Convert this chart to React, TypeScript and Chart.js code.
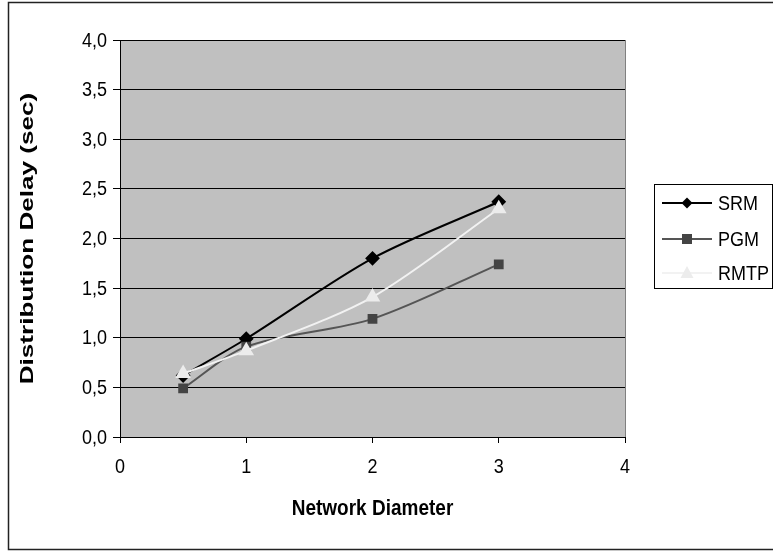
import React, { useEffect, useRef } from "react";
import { Chart, registerables } from "chart.js";

Chart.register(...registerables);

const xValues = [0.5, 1, 2, 3];
const srm = [0.62, 0.99, 1.8, 2.37];
const pgm = [0.49, 0.91, 1.19, 1.74];
const rmtp = [0.64, 0.87, 1.41, 2.3];
const seriesNames = ["SRM", "PGM", "RMTP"];
const xTitle = "Network Diameter";
const yTitle = "Distribution Delay (sec)";

const FONT = "Arial, 'Liberation Sans', sans-serif";
const fmt = (v: number) => Number(v).toFixed(1).replace(".", ",");

const bgPlugin = {
  id: "bgPlugin",
  beforeDraw(chart: any) {
    const { ctx, chartArea } = chart;
    ctx.save();
    ctx.fillStyle = "#ffffff";
    ctx.fillRect(0, 0, chart.width, chart.height);
    ctx.strokeStyle = "#222";
    ctx.lineWidth = 1.5;
    ctx.strokeRect(8.5, 2.5, chart.width + 10, 547);
    ctx.fillStyle = "#c0c0c0";
    ctx.fillRect(chartArea.left, chartArea.top, chartArea.right - chartArea.left, chartArea.bottom - chartArea.top);
    ctx.strokeStyle = "#808080";
    ctx.lineWidth = 1;
    ctx.strokeRect(chartArea.left + 0.5, chartArea.top + 0.5, chartArea.right - chartArea.left, chartArea.bottom - chartArea.top);
    ctx.restore();
  },
  afterDraw(chart: any) {
    const { ctx, chartArea } = chart;
    const xs = chart.scales.x;
    const ys = chart.scales.y;
    ctx.fillStyle = "#000";

    // y tick labels
    ys.ticks.forEach((t: any) => {
      const py = ys.getPixelForValue(t.value);
      ctx.save();
      ctx.translate(107, py + 6.5);
      ctx.scale(1, 1.08);
      ctx.font = `18px ${FONT}`;
      ctx.textAlign = "right";
      ctx.textBaseline = "alphabetic";
      ctx.fillText(fmt(t.value), 0, 0);
      ctx.restore();
    });
    // x tick labels
    xs.ticks.forEach((t: any) => {
      const px = xs.getPixelForValue(t.value);
      ctx.save();
      ctx.translate(px, 473);
      ctx.scale(1, 1.08);
      ctx.font = `18px ${FONT}`;
      ctx.textAlign = "center";
      ctx.textBaseline = "alphabetic";
      ctx.fillText(String(t.value), 0, 0);
      ctx.restore();
    });
    // x title
    ctx.save();
    ctx.translate((chartArea.left + chartArea.right) / 2, 515);
    ctx.scale(1, 1.15);
    ctx.font = `bold 19px ${FONT}`;
    ctx.textAlign = "center";
    ctx.textBaseline = "alphabetic";
    ctx.fillText(xTitle, 0, 0);
    ctx.restore();

    // y axis title (stretched along its length like the reference)
    ctx.save();
    ctx.translate(28, (chartArea.top + chartArea.bottom) / 2);
    ctx.rotate(-Math.PI / 2);
    ctx.scale(1.45, 1);
    ctx.font = `bold 18px ${FONT}`;
    ctx.textAlign = "center";
    ctx.textBaseline = "middle";
    ctx.fillText(yTitle, 0, 0);
    ctx.restore();

    ctx.save();
    // legend box
    ctx.strokeStyle = "#000";
    ctx.lineWidth = 1;
    ctx.fillStyle = "#fff";
    ctx.fillRect(654.5, 184.5, 118, 104);
    ctx.strokeRect(654.5, 184.5, 118, 104);
    const rowsY = [203, 239, 273];
    chart.data.datasets.forEach((ds: any, i: number) => {
      const y = rowsY[i];
      ctx.strokeStyle = ds.borderColor;
      ctx.lineWidth = 2;
      ctx.beginPath();
      ctx.moveTo(662, y);
      ctx.lineTo(712, y);
      ctx.stroke();
      ctx.fillStyle = ds.pointBackgroundColor;
      const cx = 687;
      ctx.beginPath();
      if (ds.pointStyle === "rectRot") {
        ctx.moveTo(cx, y - 5.5);
        ctx.lineTo(cx + 5.5, y);
        ctx.lineTo(cx, y + 5.5);
        ctx.lineTo(cx - 5.5, y);
      } else if (ds.pointStyle === "rect") {
        ctx.rect(cx - 5, y - 5, 10, 10);
      } else {
        ctx.moveTo(cx, y - 7);
        ctx.lineTo(cx + 6.5, y + 5);
        ctx.lineTo(cx - 6.5, y + 5);
      }
      ctx.closePath();
      ctx.fill();
      ctx.save();
      ctx.translate(718, y + 7);
      ctx.scale(1, 1.08);
      ctx.fillStyle = "#000";
      ctx.font = `18px ${FONT}`;
      ctx.textBaseline = "alphabetic";
      ctx.textAlign = "left";
      ctx.fillText(ds.label, 0, 0);
      ctx.restore();
    });
    ctx.restore();
  },
};

export default function App() {
  const ref = useRef<HTMLCanvasElement>(null);
  useEffect(() => {
    if (!ref.current) return;
    const mk = (vals: number[]) => xValues.map((x, i) => ({ x, y: vals[i] }));
    const chart = new Chart(ref.current, {
      type: "line",
      data: {
        datasets: [
          {
            label: seriesNames[0],
            data: mk(srm),
            borderColor: "#000000",
            backgroundColor: "#000000",
            pointBackgroundColor: "#000000",
            pointBorderColor: "#000000",
            pointStyle: "rectRot",
            pointRadius: 6,
            borderWidth: 2,
            tension: 0.3,
            order: 3,
          },
          {
            label: seriesNames[1],
            data: mk(pgm),
            borderColor: "#555555",
            backgroundColor: "#444444",
            pointBackgroundColor: "#444444",
            pointBorderColor: "#444444",
            pointStyle: "rect",
            pointRadius: 5.5,
            borderWidth: 2,
            tension: 0.3,
            order: 2,
          },
          {
            label: seriesNames[2],
            data: mk(rmtp),
            borderColor: "#f2f2f2",
            backgroundColor: "#ececec",
            pointBackgroundColor: "#ececec",
            pointBorderColor: "#ececec",
            pointStyle: "triangle",
            pointRadius: 7,
            borderWidth: 2,
            tension: 0.3,
            order: 1,
          },
        ],
      },
      options: {
        animation: false,
        responsive: false,
        layout: { padding: { left: 0, top: 40, right: 148, bottom: 0 } },
        plugins: { legend: { display: false }, tooltip: { enabled: false } },
        scales: {
          x: {
            type: "linear",
            min: 0,
            max: 4,
            afterFit: (s: any) => { s.height = 115; },
            ticks: { stepSize: 1, color: "rgba(0,0,0,0)", font: { family: FONT, size: 18 }, padding: 14 },
            grid: { drawOnChartArea: false, color: "#000", tickLength: 6, tickColor: "#000" },
            border: { color: "#000", width: 1 },
            title: { display: false },
          },
          y: {
            type: "linear",
            min: 0,
            max: 4,
            afterFit: (s: any) => { s.width = 120; },
            ticks: {
              stepSize: 0.5,
              color: "rgba(0,0,0,0)",
              font: { family: FONT, size: 18 },
              padding: 6,
              callback: (v: any) => fmt(v),
            },
            grid: { color: "#000", tickLength: 7, tickColor: "#000" },
            border: { color: "#000", width: 1 },
            title: { display: false },
          },
        },
      },
      plugins: [bgPlugin],
    });
    return () => chart.destroy();
  }, []);
  return (
    <div style={{ position: "fixed", left: 0, top: 0, width: 773, height: 552 }}>
      <canvas ref={ref} width={773} height={552} style={{ width: 773, height: 552, display: "block" }} />
    </div>
  );
}
